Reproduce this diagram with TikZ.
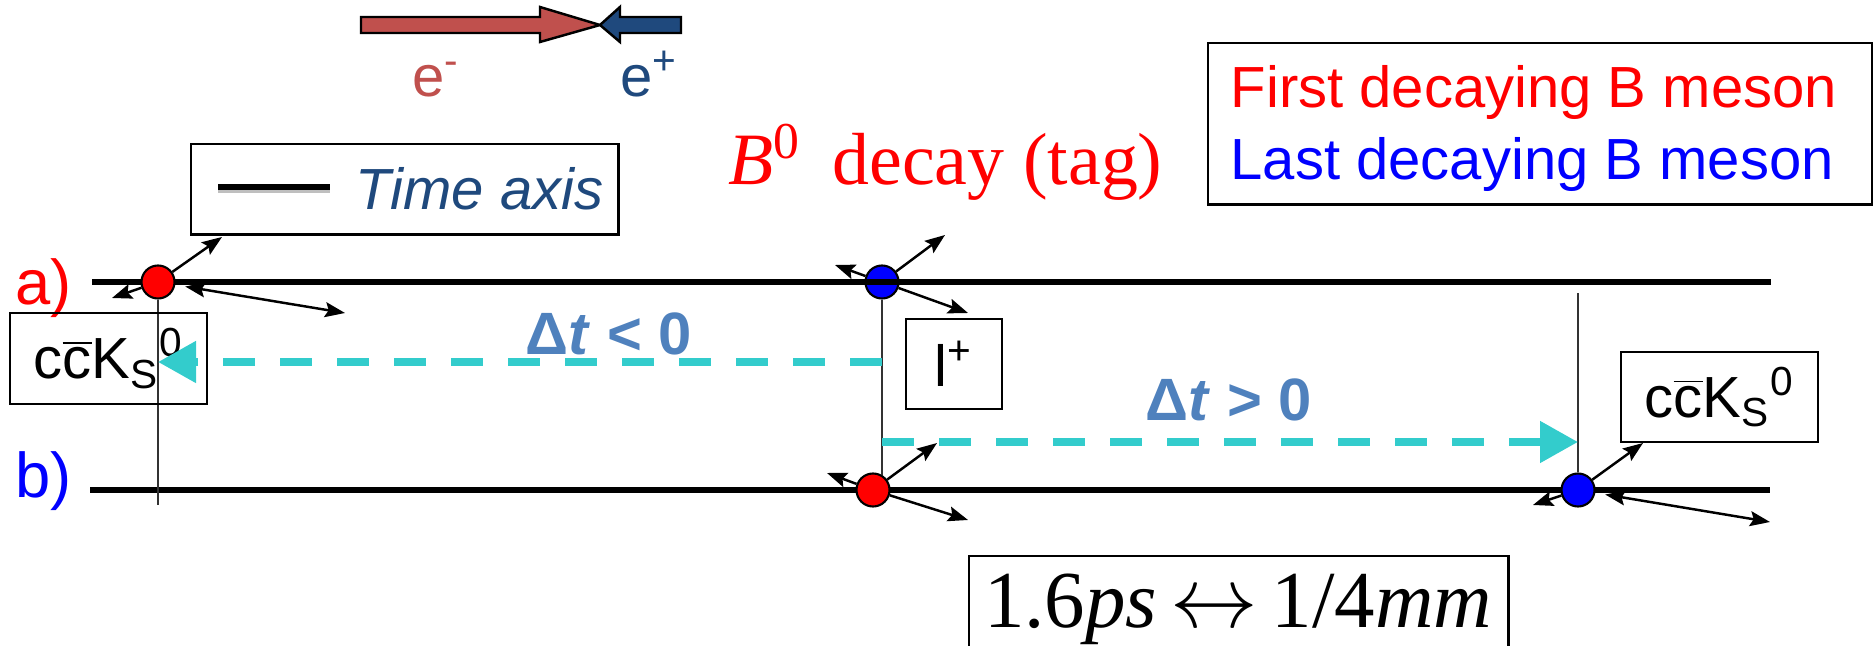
\documentclass[tikz,border=0pt]{standalone}
\usepackage{fontspec}
\setmainfont{Liberation Sans}
\newfontfamily\timesfont{Liberation Serif}
\usetikzlibrary{arrows.meta,positioning,calc}
\definecolor{firstred}{HTML}{FF0000}
\definecolor{lastblue}{HTML}{0000FF}
\definecolor{dtcyan}{HTML}{33CCCC}
\definecolor{dtblue}{HTML}{4F81BD}
\definecolor{beamred}{HTML}{C0504D}
\definecolor{beamblue}{HTML}{1F497D}
\newcommand\txtsize{\fontsize{16.5pt}{20pt}\selectfont}
\newcommand\absize{\fontsize{18pt}{22pt}\selectfont}
\newcommand\dtsize{\fontsize{17pt}{20pt}\selectfont}
\newcommand\tagsize{\timesfont\fontsize{21pt}{25pt}\selectfont}
\newcommand\scalesize{\timesfont\fontsize{23pt}{27pt}\selectfont}
\tikzset{
  box/.style={draw, line width=0.7pt, inner sep=0pt},
  txt/.style={inner sep=0pt, font=\txtsize},
  axisline/.style={line width=0.053cm},
  vline/.style={line width=0.4pt, black!80},
  decay/.style={circle, draw, line width=0.6pt, minimum size=0.33cm, inner sep=0pt},
  trackarrow/.style={-{Stealth[length=0.2cm,width=0.15cm,inset=0.035cm]}, line width=0.7pt},
  backtrack/.style={{Stealth[length=0.2cm,width=0.15cm,inset=0.035cm]}-{Stealth[length=0.2cm,width=0.15cm,inset=0.035cm]}, line width=0.7pt, shorten <=0.1cm},
  dtarrow/.style={draw=dtcyan, line width=0.08cm, dash pattern=on 0.32cm off 0.25cm, -{Triangle[length=0.38cm,width=0.40cm]}},
  beam/.style={draw=black, line width=0.7pt, line join=miter}
}
\begin{document}
\begin{tikzpicture}[x=0.01cm, y=-0.01cm]
\useasboundingbox (0,0) rectangle (1873,646);

% beams
\filldraw[beam, fill=beamred] (361,17) -- (540,17) -- (540,7) -- (600,25) -- (540,42) -- (540,33) -- (361,33) -- cycle;
\filldraw[beam, fill=beamblue] (681,17) -- (620,17) -- (620,7) -- (600,25) -- (620,42) -- (620,33) -- (681,33) -- cycle;
\node[txt, anchor=base west, text=beamred] (em) at (412,97) {e\textsuperscript{-}};
\node[txt, anchor=base west, text=beamblue] (ep) at (620,97) {e\textsuperscript{+}};

% legends
\node[box, minimum width=6.64cm, minimum height=1.61cm, anchor=north west] (key) at (1207,42) {};
\node[txt, anchor=base west, text=firstred] (first) at (1230,108) {First decaying B meson};
\node[txt, anchor=base west, text=lastblue] (last) at (1230,180) {Last decaying B meson};

\node[box, minimum width=4.27cm, minimum height=0.9cm, anchor=north west] (axiskey) at (190,143) {};
\draw[line width=0.035cm, black!25] (218,191) -- (330,191);
\draw[axisline] (218,187) -- (330,187);
\node[txt, anchor=base west, text=beamblue, font=\txtsize\itshape] (axislab) at (355,210) {Time axis};

\node[inner sep=0pt, anchor=base west, text=firstred, font=\tagsize] (tag) at (728,185) {\textit{B}\textsuperscript{0}\hspace{0.42em}decay (tag)};

% time axes
\node[txt, font=\absize, text=firstred, anchor=base west] (alab) at (15,305) {a)};
\node[txt, font=\absize, text=lastblue, anchor=base west] (blab) at (15,498) {b)};
\coordinate (a0) at (92,282);
\coordinate (a1) at (1771,282);
\coordinate (b0) at (90,490);
\coordinate (b1) at (1770,490);

\node[decay, fill=lastblue] (ba) at (882,282) {};
\draw[axisline] (a0) -- (a1);
\node[decay, fill=firstred] (ra) at (158,282) {};
\draw[axisline] (b0) -- (b1);
\node[decay, fill=firstred] (rb) at (873,490) {};
\node[decay, fill=lastblue] (bb) at (1578,490) {};

\draw[vline] (ra.south) -- (ra.south |- 0,505);
\draw[vline] (ba.south) -- (ba.south |- rb.60);
\draw[vline] (bb.north) -- (bb.north |- 0,293);

% tracks
\coordinate (ra-u) at (222,237);
\coordinate (ra-l) at (112,298);
\coordinate (ra-r) at (345,313);
\coordinate (ba-u) at (945,235);
\coordinate (ba-l) at (835,265);
\coordinate (ba-r) at (968,313);
\coordinate (rb-u) at (937,443);
\coordinate (rb-l) at (827,473);
\coordinate (rb-r) at (968,520);
\coordinate (bb-u) at (1643,443);
\coordinate (bb-l) at (1533,505);
\coordinate (bb-r) at (1770,522);
\foreach \v in {ra,ba,rb,bb} {
  \draw[trackarrow] (\v) -- (\v-u);
  \draw[trackarrow] (\v) -- (\v-l);
}
\draw[backtrack] (ra) -- (ra-r);
\draw[trackarrow] (ba) -- (ba-r);
\draw[trackarrow] (rb) -- (rb-r);
\draw[backtrack] (bb) -- (bb-r);

% final states
\node[box, minimum width=1.97cm, minimum height=0.91cm, font=\txtsize] (ksl) at (108.5,358.5) {c$\overline{\mbox{c}}$K\textsubscript{S}\textsuperscript{0}};
\node[box, minimum width=1.97cm, minimum height=0.90cm, font=\txtsize] (ksr) at (1719.5,397) {c$\overline{\mbox{c}}$K\textsubscript{S}\textsuperscript{0}};
\node[box, minimum width=0.96cm, minimum height=0.90cm, font=\txtsize] (lep) at (954,364) {l\textsuperscript{+}};

% delta t
\draw[dtarrow] (ba |- 0,362) -- (ra |- 0,362);
\draw[dtarrow] (ba |- 0,442) -- (bb.north |- 0,442);
\node[txt, font=\dtsize\bfseries, text=dtblue, anchor=base west] (dtneg) at (525,355) {Δ\textit{t} < 0};
\node[txt, font=\dtsize\bfseries, text=dtblue, anchor=base west] (dtpos) at (1145,420) {Δ\textit{t} > 0};

% scale
\node[box, minimum width=5.39cm, minimum height=1.2cm, anchor=north west] (scalebox) at (968,555) {};
\node[inner sep=0pt, anchor=base, font=\scalesize] (scaletxt) at (1238,627) {1.6\textit{ps}\,$\leftrightarrow$\,1/4\textit{mm}};
\end{tikzpicture}
\end{document}
